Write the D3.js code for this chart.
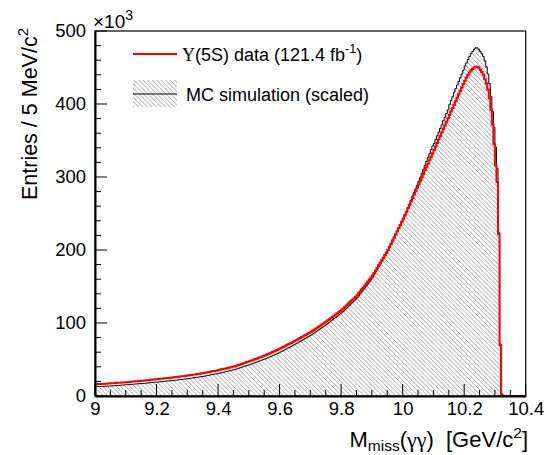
<!DOCTYPE html>
<html><head><meta charset="utf-8">
<script src="https://cdn.jsdelivr.net/npm/d3@7/dist/d3.min.js"></script>
<style>body{margin:0;background:#fff}svg{display:block;font-family:"Liberation Sans",Arial,sans-serif}</style>
</head><body>
<svg id="c" width="547" height="455"></svg>
<script>
// Binning: 5 MeV bins from 9.0 to 10.4 GeV
const xMin = 9.0, xMax = 10.4, binWidth = 0.005;
const xTicks = [9, 9.2, 9.4, 9.6, 9.8, 10, 10.2, 10.4];
const xTickLabels = ["9", "9.2", "9.4", "9.6", "9.8", "10", "10.2", "10.4"];
const yTicks = [0, 100, 200, 300, 400, 500];
const yTickLabels = ["0", "100", "200", "300", "400", "500"];

// Υ(5S) data, entries per bin (×10^3)
const dataValues = [
16.0,16.1,16.3,16.4,16.5,16.6,16.8,16.9,17.0,17.2,
17.3,17.5,17.6,17.8,18.0,18.1,18.3,18.5,18.6,18.8,
19.0,19.2,19.3,19.5,19.7,19.9,20.1,20.2,20.4,20.6,
20.8,21.0,21.2,21.5,21.7,21.9,22.1,22.3,22.6,22.8,
23.0,23.2,23.5,23.7,23.9,24.2,24.4,24.6,24.8,25.1,
25.3,25.6,25.9,26.1,26.4,26.7,26.9,27.2,27.5,27.7,
28.0,28.3,28.7,29.0,29.3,29.6,30.0,30.3,30.6,31.0,
31.3,31.7,32.1,32.5,33.0,33.4,33.8,34.2,34.6,35.1,
35.5,36.0,36.5,37.0,37.5,38.0,38.5,39.0,39.5,40.0,
40.5,41.2,41.9,42.6,43.3,44.0,44.7,45.4,46.1,46.8,
47.5,48.3,49.1,49.9,50.7,51.5,52.3,53.1,53.9,54.7,
55.5,56.4,57.4,58.3,59.3,60.2,61.2,62.1,63.1,64.0,
65.0,66.1,67.2,68.3,69.4,70.5,71.6,72.7,73.8,74.9,
76.0,77.2,78.4,79.6,80.8,82.0,83.2,84.4,85.6,86.8,
88.0,89.4,90.8,92.2,93.6,95.0,96.4,97.8,99.2,100.6,
102,103.6,105.2,106.8,108.4,110,111.6,113.2,114.8,116.4,
118,120,122,124,126,128,130,132,134,136,
138,140.7,143.4,146.1,148.8,151.5,154.2,156.9,159.6,162.3,
165,168.5,172,175.5,179,182.5,186,189.5,193,196.5,
200,204.3,208.6,212.9,217.2,221.5,225.8,230.1,234.4,238.7,
243,247.7,252.4,257.1,261.8,266.5,271.2,275.9,280.6,285.3,
290,294.7,299.4,304.1,308.8,313.5,318.2,322.9,327.6,332.3,
337,341.8,346.6,351.4,356.2,361,365.8,370.6,375.4,380.2,
385,389.7,394.4,399.1,403.8,408.5,413.2,417.9,422.6,427.3,
432,436,440,443,446,448,450,451,451,450,
447,444,440,434,428,420,408,392,372,345,
316,293,222,70,2,0,0,0,0,0,
0,0,0,0,0,0,0,0,0,0
];

// MC simulation (scaled), entries per bin (×10^3)
const mcValues = [
12.7,12.8,12.9,13.0,13.1,13.2,13.3,13.4,13.5,13.7,
13.8,14.0,14.1,14.3,14.5,14.6,14.8,15.0,15.1,15.3,
15.4,15.6,15.7,15.9,16.1,16.3,16.5,16.6,16.8,17.0,
17.1,17.2,17.4,17.7,17.9,18.1,18.3,18.5,18.8,19.0,
19.0,19.2,19.5,19.7,19.9,20.2,20.4,20.6,20.8,21.1,
21.1,21.4,21.7,21.9,22.2,22.5,22.7,23.0,23.3,23.5,
23.7,24.0,24.4,24.7,25.0,25.3,25.7,26.0,26.3,26.7,
26.9,27.3,27.7,28.1,28.6,29.0,29.4,29.8,30.2,30.7,
31.0,31.5,32.0,32.5,33.0,33.5,34.0,34.5,35.0,35.5,
35.9,36.6,37.3,38.0,38.7,39.4,40.1,40.8,41.5,42.2,
42.7,43.5,44.3,45.1,45.9,46.7,47.5,48.3,49.1,49.9,
50.5,51.4,52.4,53.3,54.3,55.2,56.2,57.1,58.1,59.0,
60.0,61.1,62.2,63.3,64.4,65.5,66.6,67.7,68.9,70.0,
71.3,72.5,73.7,74.9,76.1,77.3,78.5,79.7,81.0,82.2,
83.5,84.9,86.3,87.7,89.1,90.5,92.0,93.4,94.8,96.3,
98.0,99.6,101.2,102.8,104.4,106.0,107.6,109.2,110.8,112.4,
114,116,118,120,122,124.1,126.2,128.2,130.2,132.4,
134.5,137.3,140.0,142.7,145.4,148.1,150.8,153.6,156.4,159.2,
162.5,166.2,169.8,173.5,177.1,180.8,184.4,188.1,191.7,195.4,
199,203.4,207.8,212.2,216.6,221,225.4,229.8,234.2,238.6,
243,248,253,258,263,268.5,273.5,278.5,283.5,288.5,
294,299.5,305,310.5,316,321.5,327,332,337.5,342.5,
346,351.5,356.5,361.5,366.5,371.5,377,382,387,392,
399,405,410,416,421,426,431,436,441,446,
452,456,461,465,469,472,475,477,477,475,
472,469,465,459,451,441,428,410,390,368,
341,312,224,71,0,0,0,0,0,0,
0,0,0,0,0,0,0,0,0,0
];

const W = 547, H = 455;
const m = {left: 95, right: 21.3, top: 31, bottom: 59};
const svg = d3.select("#c");
const x = d3.scaleLinear().domain([xMin, xMax]).range([m.left, W - m.right]);
const y = d3.scaleLinear().domain([0, 500]).range([H - m.bottom, m.top]);

const defs = svg.append("defs");
const P = 4.5;
const pat = defs.append("pattern").attr("id", "hatch").attr("patternUnits", "userSpaceOnUse")
  .attr("width", P).attr("height", P);
pat.append("path").attr("d", `M-1,-1 L${P+1},${P+1} M-1,${P-1} L1,${P+1} M${P-1},-1 L${P+1},1`)
  .attr("stroke", "#999").attr("stroke-width", 0.9).attr("fill", "none");
defs.append("clipPath").attr("id", "plotclip").append("rect")
  .attr("x", m.left).attr("y", m.top - 2).attr("width", W - m.left - m.right).attr("height", H - m.top - m.bottom + 3);

function toPts(vals) {
  const pts = vals.map((v, i) => [xMin + i * binWidth, v]);
  pts.push([xMin + vals.length * binWidth, vals[vals.length - 1]]);
  return pts;
}
const mcPts = toPts(mcValues), dataPts = toPts(dataValues);

const g = svg.append("g").attr("clip-path", "url(#plotclip)");
g.append("path").datum(mcPts)
  .attr("d", d3.area().curve(d3.curveStepAfter).x(d => x(d[0])).y0(y(0)).y1(d => y(d[1])))
  .attr("fill", "url(#hatch)");
g.append("path").datum(mcPts)
  .attr("d", d3.line().curve(d3.curveStepAfter).x(d => x(d[0])).y(d => y(d[1])))
  .attr("fill", "none").attr("stroke", "#000").attr("stroke-width", 1);
g.append("path").datum(dataPts)
  .attr("d", d3.line().curve(d3.curveStepAfter).x(d => x(d[0])).y(d => y(d[1])))
  .attr("fill", "none").attr("stroke", "#ff0000").attr("stroke-width", 2);

// Frame
svg.append("rect").attr("x", m.left).attr("y", m.top).attr("width", W - m.left - m.right)
  .attr("height", H - m.top - m.bottom).attr("fill", "none").attr("stroke", "#000").attr("stroke-width", 1.2);

// Axes
const xAxis = d3.axisBottom(x).tickValues(xTicks).tickFormat((d, i) => xTickLabels[i]).tickSize(0).tickPadding(0);
const xg = svg.append("g").attr("transform", `translate(0,${y(0)})`).call(xAxis);
xg.select(".domain").attr("stroke-width", 2);
xg.selectAll("text").attr("font-size", 18.5).attr("dy", "1.05em").attr("fill", "#000")
  .attr("font-family", "Liberation Sans, Arial, sans-serif");
const xMinor = d3.range(0, 29).map(i => xMin + i * 0.05);
svg.append("g").selectAll("line").data(xMinor).join("line")
  .attr("x1", d => x(d)).attr("x2", d => x(d))
  .attr("y1", y(0)).attr("y2", (d, i) => y(0) - (i % 4 === 0 ? 12 : 6))
  .attr("stroke", "#000").attr("stroke-width", 1);

const yAxis = d3.axisLeft(y).tickValues(yTicks).tickFormat((d, i) => yTickLabels[i]).tickSize(0).tickPadding(9);
const yg = svg.append("g").attr("transform", `translate(${m.left},0)`).call(yAxis);
yg.select(".domain").attr("stroke-width", 2);
yg.selectAll("text").attr("font-size", 18.5).attr("fill", "#000")
  .attr("font-family", "Liberation Sans, Arial, sans-serif");
const yMinor = d3.range(0, 26).map(i => i * 20);
svg.append("g").selectAll("line").data(yMinor).join("line")
  .attr("x1", m.left).attr("x2", (d, i) => m.left + (i % 5 === 0 ? 12 : 6))
  .attr("y1", d => y(d)).attr("y2", d => y(d))
  .attr("stroke", "#000").attr("stroke-width", 1);

// ×10^3
const ex = svg.append("text").attr("x", m.left - 2).attr("y", 28).attr("font-size", 19);
ex.append("tspan").text("×10");
ex.append("tspan").attr("font-size", 14).attr("dy", -8).text("3");

// Y title
const yt = svg.append("text").attr("transform", "translate(37,28) rotate(-90)")
  .attr("text-anchor", "end").attr("font-size", 21.5);
yt.append("tspan").text("Entries / 5 MeV/c");
yt.append("tspan").attr("font-size", 15).attr("dy", -9).text("2");

// X title
const xt = svg.append("text").attr("x", 528).attr("y", 447).attr("text-anchor", "end").attr("font-size", 22);
xt.append("tspan").text("M");
xt.append("tspan").attr("font-size", 15.5).attr("dy", 4).text("miss");
xt.append("tspan").attr("dy", -4).text("(");
xt.append("tspan").attr("font-family", "Liberation Serif, Times New Roman, serif").text("γγ");
xt.append("tspan").text(")\u00a0\u00a0[GeV/c");
xt.append("tspan").attr("font-size", 15.5).attr("dy", -9).text("2");
xt.append("tspan").attr("dy", 9).text("]");

// Legend
const leg = svg.append("g");
leg.append("line").attr("x1", 133).attr("x2", 177).attr("y1", 54).attr("y2", 54)
  .attr("stroke", "#ff0000").attr("stroke-width", 2);
const l1 = leg.append("text").attr("x", 182).attr("y", 61).attr("font-size", 18);
l1.append("tspan").attr("font-family", "Liberation Serif, Times New Roman, serif").text("Υ");
l1.append("tspan").text("(5S) data (121.4 fb");
l1.append("tspan").attr("font-size", 12.5).attr("dy", -8).text("-1");
l1.append("tspan").attr("dy", 8).text(")");
leg.append("rect").attr("x", 133).attr("y", 80).attr("width", 44).attr("height", 27).attr("fill", "url(#hatch)");
leg.append("line").attr("x1", 133).attr("x2", 177).attr("y1", 94).attr("y2", 94)
  .attr("stroke", "#000").attr("stroke-width", 1);
leg.append("text").attr("x", 186).attr("y", 101).attr("font-size", 18).text("MC simulation (scaled)");
</script>
</body></html>
